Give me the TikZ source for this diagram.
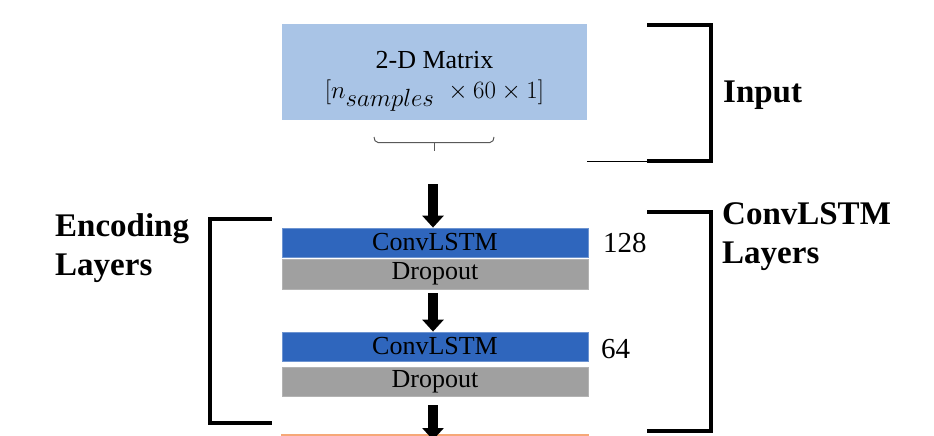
\documentclass[tikz,border=0pt]{standalone}
\usepackage{fontspec}
\setmainfont{Liberation Serif}[BoldFont={Liberation Serif Bold}]
\usetikzlibrary{arrows.meta}
\definecolor{inblue}{HTML}{A9C4E6}
\definecolor{lstmblue}{HTML}{2F66BD}
\definecolor{dropgray}{HTML}{A0A0A0}
\definecolor{peach}{HTML}{F6A878}
\tikzset{
  layerbox/.style={rectangle, minimum width=306pt, minimum height=29pt, inner sep=0pt, text=black, font=\fontsize{26}{28}\selectfont},
  lstmbox/.style={layerbox, fill=lstmblue, draw=lstmblue!70!white, line width=0.8pt},
  dropbox/.style={layerbox, fill=dropgray, draw=dropgray!80!white, line width=0.8pt},
  bracketline/.style={line width=3.5pt, line cap=rect},
  bigarrow/.style={line width=10pt, -{Triangle[width=21pt,length=12pt]}},
  heading/.style={font=\fontsize{33}{39}\selectfont\bfseries, align=left, inner sep=0pt},
  sizelabel/.style={font=\fontsize{29}{30}\selectfont, inner sep=0pt, anchor=west}
}
\begin{document}
\begin{tikzpicture}[x=1pt,y=-1pt]
\useasboundingbox (0,0) rectangle (934,436);
\clip (0,0) rectangle (934,436);
% input box
\node[rectangle, fill=inblue, minimum width=305pt, minimum height=96pt, inner sep=0pt] (in) at (434.5,72) {};
\node[inner sep=0pt, align=center, font=\fontsize{26}{31}\selectfont, anchor=base] (intext) at (434.5,98)
  {2-D Matrix\\[-2pt] \fontsize{33}{34}\selectfont$[n_{samples}\ \times 60 \times 1]$};
% small brace
\coordinate (brL) at (374,137);
\coordinate (brR) at (494,137);
\coordinate (brM) at (434,142.5);
\coordinate (brT) at (434,151);
\draw[gray!70!black, line width=1pt] (brL) to[out=-90,in=180] (378,142.5) -- (brM) -- (490,142.5) to[out=0,in=-90] (brR);
\draw[gray!70!black, line width=1pt] (brM) -- (brT);
% layers
\node[lstmbox] (c1) at (435,242.5) {ConvLSTM};
\node[dropbox, minimum height=30pt] (d1) at (435,274) {Dropout};
\node[lstmbox] (c2) at (435,346.5) {ConvLSTM};
\node[dropbox] (d2) at (435,381.5) {Dropout};
\node[rectangle, draw=peach, fill=white, line width=1.5pt, minimum width=306pt, minimum height=20pt, inner sep=0pt] (nx) at (435,445) {};
% arrows
\coordinate (a1s) at (433,184);
\coordinate (a2s) at (433,293);
\coordinate (a3s) at (433,405);
\draw[bigarrow] (a1s) -- (a1s |- c1.north) ;
\draw[bigarrow] (a2s) -- (a2s |- c2.north);
\draw[bigarrow] (a3s) -- (433,440);
% size labels
\node[sizelabel] (n128) at (603,243) {128};
\node[sizelabel] (n64) at (601,349) {64};
% input bracket
\coordinate (ib1) at (649,25);
\coordinate (ib2) at (711,25);
\coordinate (ib3) at (711,161);
\coordinate (ib4) at (649,161);
\draw[bracketline] (ib1) -- (ib2) -- (ib3) -- (ib4);
\draw[line width=1pt] (ib4) -- (587,161);
\node[heading, anchor=base west] (inlab) at (723,102) {Input};
% encoding bracket
\coordinate (eb1) at (270,219);
\coordinate (eb2) at (210,219);
\coordinate (eb3) at (210,423);
\coordinate (eb4) at (270,423);
\draw[bracketline] (eb1) -- (eb2) -- (eb3) -- (eb4);
\node[heading, anchor=base west] (enclab) at (55,275) {Encoding\\Layers};
% convlstm bracket
\coordinate (cb1) at (649,212);
\coordinate (cb2) at (711,212);
\coordinate (cb3) at (711,431);
\coordinate (cb4) at (649,431);
\draw[bracketline] (cb1) -- (cb2) -- (cb3) -- (cb4);
\node[heading, anchor=base west] (cllab) at (722,263) {ConvLSTM\\Layers};
\end{tikzpicture}
\end{document}
